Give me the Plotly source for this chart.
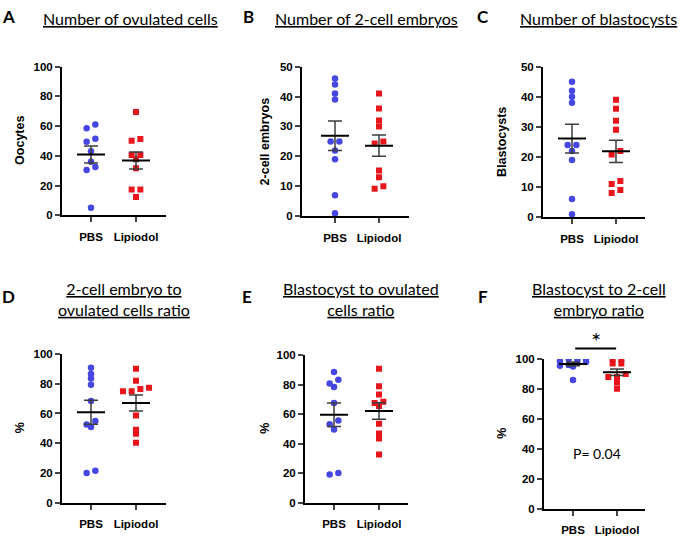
import numpy as np
import plotly.graph_objects as go

# ---------------- data ----------------
categories = ["PBS", "Lipiodol"]
panel_letters = ["A", "B", "C", "D", "E", "F"]
panel_titles = [
    "Number of ovulated cells",
    "Number of 2-cell embryos",
    "Number of blastocysts",
    "2-cell embryo to<br>ovulated cells ratio",
    "Blastocyst to ovulated<br>cells ratio",
    "Blastocyst to 2-cell<br>embryo ratio",
]
y_titles = ["Oocytes", "2-cell embryos", "Blastocysts", "%", "%", "%"]
y_max = [100, 50, 50, 100, 100, 100]
y_dtick = [20, 10, 10, 20, 20, 20]

oocytes_pbs = [61, 58.5, 51.5, 49.5, 43, 36, 32.5, 30.5, 5]
oocytes_lip = [69.5, 51.3, 50.2, 40.6, 40.6, 37.7, 31.6, 17.3, 17.3, 12.3]
embryos_pbs = [46, 44, 41, 39, 25, 25, 22, 19, 7, 1]
embryos_lip = [41, 36, 32, 30, 25, 24.3, 15.3, 13, 10, 9.2]
blasto_pbs = [45, 42, 40, 38, 24, 24, 22, 19, 6, 1]
blasto_lip = [39, 36, 32, 29, 22, 20.8, 12, 11, 9, 8]
emb_ovu_pbs = [90.8, 86.6, 83.6, 79.4, 68.4, 55, 52.6, 50.9, 21.5, 19.9]
emb_ovu_lip = [90.1, 82, 77.4, 76.5, 75, 75, 58.6, 49.1, 46.3, 40.4]
bla_ovu_pbs = [88.5, 83.2, 80.8, 78.4, 67.5, 55.6, 53.2, 49.5, 20.1, 19]
bla_ovu_lip = [90.7, 78.8, 73.3, 68.4, 67.5, 65.4, 53.4, 46.8, 43.5, 32.6]
bla_emb_pbs = [100, 100, 100, 98.5, 98, 98, 96, 95.5, 95, 86]
bla_emb_lip = [100, 100, 97, 97, 90, 88, 88, 87, 84.3, 80]

panel_data = [
    (oocytes_pbs, oocytes_lip),
    (embryos_pbs, embryos_lip),
    (blasto_pbs, blasto_lip),
    (emb_ovu_pbs, emb_ovu_lip),
    (bla_ovu_pbs, bla_ovu_lip),
    (bla_emb_pbs, bla_emb_lip),
]
p_value_text = "P= 0.04"
sig_text = "*"
sig_panel = 5

# ---------------- layout geometry (pixels) ----------------
W, H = 680, 538
boxes = [  # left, right, top, bottom
    (62, 166, 62, 214),
    (302, 409, 62, 215),
    (543, 645, 62, 216),
    (62, 166, 356, 508),
    (305, 408, 357, 508),
    (544, 645, 361, 514),
]
cat_px = [(91, 136), (335, 379), (572, 616), (91, 136), (334, 379), (573, 617)]
letter_pos = [(8, 11), (248, 11), (483, 11), (8, 297), (247, 297), (483, 297)]
title_pos = [(130, 13), (366, 13), (598, 13), (124, 300), (361, 300), (599, 300)]
ytitle_x = [20, 265, 502, 20, 265, 502]

BLUE = "#4646E2"
RED = "#E8161C"
ERR = "#3c3c3c"
TXT_FONT = "Lato"
AX_FONT = "Liberation Sans"


def px2x(p):
    return p / W


def px2y(p):
    return 1 - p / H


def swarm_offsets(vals, ypx_per_unit, spacing_units, thr_px=3.9, max_row=4):
    vals = list(vals)
    order = sorted(range(len(vals)), key=lambda k: -vals[k])
    offs = np.zeros(len(vals))
    rows, cur = [], []
    for i in order:
        if cur and (vals[cur[0]] - vals[i]) * ypx_per_unit < thr_px and len(cur) < max_row:
            cur.append(i)
        else:
            if cur:
                rows.append(cur)
            cur = [i]
    if cur:
        rows.append(cur)
    for row in rows:
        rs = sorted(row, key=lambda k: vals[k])
        n = len(rs)
        for j, k in enumerate(rs):
            offs[k] = (j - (n - 1) / 2) * spacing_units
    return offs


fig = go.Figure()
annotations = []
shapes = []

for p in range(6):
    left, right, top, bottom = boxes[p]
    c1, c2 = cat_px[p]
    sp = c2 - c1
    r0 = 1 - (c1 - left) / sp
    r1 = 2 + (right - c2) / sp
    xpx_unit = sp
    ypx_unit = (bottom - top) / y_max[p]
    sfx = "" if p == 0 else str(p + 1)
    xa, ya = "x" + sfx, "y" + sfx

    fig.update_layout(**{
        "xaxis" + sfx: dict(
            domain=[px2x(left), px2x(right)], range=[r0, r1], anchor=ya,
            tickvals=[1, 2], ticktext=categories, ticks="outside", ticklen=5,
            tickwidth=2, showline=True, linewidth=2, linecolor="black",
            showgrid=False, zeroline=False, fixedrange=True, ticklabelstandoff=5,
            tickfont=dict(family=AX_FONT, size=11.5, color="black", weight="bold"),
        ),
        "yaxis" + sfx: dict(
            domain=[px2y(bottom), px2y(top)], range=[0, y_max[p]], anchor=xa,
            dtick=y_dtick[p], tick0=0, ticks="outside", ticklen=5, tickwidth=2,
            showline=True, linewidth=2, linecolor="black", showgrid=False,
            zeroline=False, fixedrange=True,
            tickfont=dict(family=AX_FONT, size=11.5, color="black", weight="bold"),
        ),
    })

    spacing_units = 8.7 / xpx_unit
    half_mean = 14 / xpx_unit
    groups = panel_data[p]
    for g, vals in enumerate(groups):
        c = g + 1
        offs = swarm_offsets(vals, ypx_unit, spacing_units)
        fig.add_trace(go.Scatter(
            x=c + offs, y=vals, mode="markers", xaxis=xa, yaxis=ya,
            marker=dict(symbol="circle" if g == 0 else "square",
                        size=6.5 if g == 0 else 6,
                        color=BLUE if g == 0 else RED, line=dict(width=0)),
            showlegend=False, hoverinfo="skip",
        ))
    for g, vals in enumerate(groups):
        c = g + 1
        arr = np.asarray(vals, dtype=float)
        m = arr.mean()
        sem = arr.std(ddof=1) / np.sqrt(len(arr))
        fig.add_trace(go.Scatter(
            x=[c], y=[m], mode="markers", xaxis=xa, yaxis=ya,
            marker=dict(size=1, color="rgba(0,0,0,0)"),
            error_y=dict(type="data", array=[sem], visible=True, color=ERR,
                         thickness=1.5, width=7),
            showlegend=False, hoverinfo="skip",
        ))
        fig.add_trace(go.Scatter(
            x=[c - half_mean, c + half_mean], y=[m, m], mode="lines",
            xaxis=xa, yaxis=ya, line=dict(color="black", width=2),
            showlegend=False, hoverinfo="skip",
        ))

    # panel letter
    lx, ly = letter_pos[p]
    annotations.append(dict(
        text=panel_letters[p], x=px2x(lx), y=px2y(ly), xref="paper", yref="paper",
        showarrow=False, xanchor="center", yanchor="middle",
        font=dict(family=TXT_FONT, size=17, color="black", weight="bold"),
    ))
    # title
    tx, ty = title_pos[p]
    annotations.append(dict(
        text=panel_titles[p], x=px2x(tx), y=px2y(ty), xref="paper", yref="paper",
        showarrow=False, xanchor="center", yanchor="middle", align="center",
        font=dict(family=TXT_FONT, size=16, color="black", lineposition="under"),
    ))
    # y-axis title
    annotations.append(dict(
        text=y_titles[p], x=px2x(ytitle_x[p]), y=px2y((top + bottom) / 2),
        xref="paper", yref="paper", showarrow=False, textangle=-90,
        xanchor="center", yanchor="middle",
        font=dict(family=AX_FONT, size=12.5, color="black", weight="bold"),
    ))

# significance annotation on panel F
p = sig_panel
sfx = str(p + 1)
left, right, top, bottom = boxes[p]
c1, c2 = cat_px[p]
sp = c2 - c1
r0 = 1 - (c1 - left) / sp
r1 = 2 + (right - c2) / sp
bar_y = 107 / y_max[p]
shapes.append(dict(
    type="line", xref="x" + sfx + " domain", yref="y" + sfx + " domain",
    x0=(1.05 - r0) / (r1 - r0), x1=(1.98 - r0) / (r1 - r0), y0=bar_y, y1=bar_y,
    line=dict(color="black", width=2),
))
annotations.append(dict(
    text=sig_text, x=(1.52 - r0) / (r1 - r0), y=112.5 / y_max[p],
    xref="x" + sfx + " domain", yref="y" + sfx + " domain", showarrow=False,
    xanchor="center", yanchor="middle",
    font=dict(family=TXT_FONT, size=24, color="black"),
))
annotations.append(dict(
    text=p_value_text, x=1.55, y=37, xref="x" + sfx, yref="y" + sfx,
    showarrow=False, xanchor="center", yanchor="middle",
    font=dict(family=TXT_FONT, size=14, color="black"),
))

fig.update_layout(
    width=W, height=H, margin=dict(l=0, r=0, t=0, b=0),
    paper_bgcolor="white", plot_bgcolor="white",
    annotations=annotations, shapes=shapes, showlegend=False,
)

fig.write_html("out.html")
